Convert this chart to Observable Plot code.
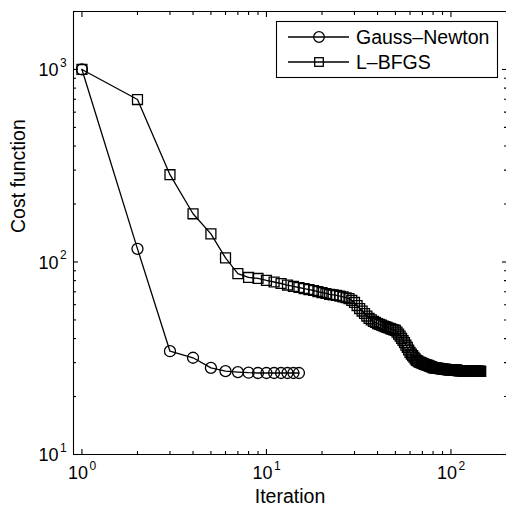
<!DOCTYPE html>
<html>
<head>
<meta charset="utf-8">
<script src="https://cdn.jsdelivr.net/npm/d3@7"></script>
<script src="https://cdn.jsdelivr.net/npm/@observablehq/plot@0.6"></script>
<style>
  html, body { margin: 0; padding: 0; background: #fff; }
  #chart { position: relative; width: 506px; height: 519px; }
</style>
</head>
<body>
<div id="chart"></div>
<script>
// ---- data ----
const seriesNames = ["Gauss–Newton", "L–BFGS"];
const gnIter = [1, 2, 3, 4, 5, 6, 7, 8, 9, 10, 11, 12, 13, 14, 15];
const gnCost = [1000, 117, 34.4, 31.8, 28.2, 27.1, 26.8, 26.6, 26.5, 26.5, 26.5, 26.5, 26.5, 26.5, 26.5];
const lbfgsCost = [
  1000, 698, 284, 178, 140, 105, 87, 83.1, 82.1, 80.2,
  78.7, 77.3, 75.9, 74.6, 73.7, 72.8, 71.9, 71.1, 70.2, 69.4,
  68.6, 67.8, 67.4, 67.0, 66.4, 65.8, 65.2, 64.6, 63.2, 61.6,
  59.4, 57.3, 55.6, 54.0, 52.4, 50.9, 50.0, 49.1, 48.5, 47.9,
  47.4, 47.0, 46.5, 46.1, 45.7, 45.4, 45.1, 44.7, 44.4, 44.1,
  43.2, 42.2, 41.2, 40.1, 39.1, 38.1, 37.0, 36.0, 34.9, 33.9,
  33.2, 32.6, 32.0, 31.4, 30.8, 30.6, 30.3, 30.1, 29.9, 29.7,
  29.6, 29.4, 29.3, 29.1, 29.0, 28.9, 28.7, 28.6, 28.4, 28.3,
  28.2, 28.2, 28.1, 28.1, 28.0, 28.0, 27.9, 27.9, 27.8, 27.8,
  27.8, 27.7, 27.7, 27.7, 27.6, 27.6, 27.6, 27.5, 27.5, 27.5,
  27.5, 27.5, 27.4, 27.4, 27.4, 27.4, 27.4, 27.4, 27.3, 27.3,
  27.3, 27.3, 27.3, 27.3, 27.3, 27.2, 27.2, 27.2, 27.2, 27.2,
  27.2, 27.2, 27.2, 27.2, 27.1, 27.1, 27.1, 27.1, 27.1, 27.1,
  27.1, 27.1, 27.1, 27.1, 27.0, 27.0, 27.0, 27.0, 27.0, 27.0,
  27.0, 27.0, 27.0, 27.0, 27.0
];
const lbfgsIter = lbfgsCost.map((_, i) => i + 1);
const xMajor = [1, 10, 100];
const xMinor = [2, 3, 4, 5, 6, 7, 8, 9, 20, 30, 40, 50, 60, 70, 80, 90, 200];
const yMajor = [10, 100, 1000];
const yMinor = [20, 30, 40, 50, 60, 70, 80, 90, 200, 300, 400, 500, 600, 700, 800, 900, 2000];
const xDomain = [0.9, 200];
const yDomain = [10, 2000];

const gn = gnIter.map((x, i) => ({x, y: gnCost[i]}));
const lb = lbfgsIter.map((x, i) => ({x, y: lbfgsCost[i]}));

const FONT = "'Liberation Sans', Arial, Helvetica, sans-serif";
const SW = 1.3;

function legendMark() {
  const g = d3.create("svg:g").attr("font-family", FONT).attr("text-anchor", "start");
  g.append("rect").attr("x", 276.5).attr("y", 21.5).attr("width", 221).attr("height", 56)
    .attr("fill", "white").attr("stroke", "black").attr("stroke-width", 1.1);
  const rows = [37, 62];
  rows.forEach((cy, i) => {
    g.append("line").attr("x1", 288).attr("x2", 349).attr("y1", cy).attr("y2", cy)
      .attr("stroke", "black").attr("stroke-width", SW);
    if (i === 0) {
      g.append("circle").attr("cx", 319).attr("cy", cy).attr("r", 5.3)
        .attr("fill", "none").attr("stroke", "black").attr("stroke-width", SW);
    } else {
      g.append("rect").attr("x", 319 - 4.3).attr("y", cy - 4.3).attr("width", 8.6).attr("height", 8.6)
        .attr("fill", "none").attr("stroke", "black").attr("stroke-width", SW);
    }
    g.append("text").attr("x", 356).attr("y", cy + 7).attr("font-size", 19.5)
      .attr("text-anchor", "start").attr("fill", "black").text(seriesNames[i]);
  });
  return g.node();
}

const noLabel = () => "";
const tickOpts = (anchor, size) => ({anchor, tickSize: size, tickFormat: noLabel, label: null, tickPadding: 0, strokeWidth: 1.1});

const plot = Plot.plot({
  width: 506,
  height: 519,
  marginLeft: 73,
  marginRight: 0,
  marginTop: 11,
  marginBottom: 65,
  style: {fontFamily: FONT, background: "white", color: "black"},
  x: {type: "log", domain: xDomain},
  y: {type: "log", domain: yDomain},
  marks: [
    // frame lines (left, top, bottom)
    Plot.ruleX([xDomain[0]], {stroke: "black", strokeWidth: 1.1}),
    Plot.ruleY([yDomain[0], yDomain[1]], {stroke: "black", strokeWidth: 1.1}),
    // inward ticks on all four sides
    Plot.axisX(xMajor, tickOpts("bottom", -5)),
    Plot.axisX(xMinor, tickOpts("bottom", -3)),
    Plot.axisX(xMajor, tickOpts("top", -5)),
    Plot.axisX(xMinor, tickOpts("top", -3)),
    Plot.axisY(yMajor, tickOpts("left", -5)),
    Plot.axisY(yMinor, tickOpts("left", -3)),
    Plot.axisY(yMajor, tickOpts("right", -5)),
    Plot.axisY(yMinor, tickOpts("right", -3)),
    // tick labels 10^n
    Plot.text(xMajor, {x: d => d, frameAnchor: "bottom", text: d => "10", textAnchor: "end", dx: 6, dy: 24, fontSize: 18, fill: "black"}),
    Plot.text(xMajor, {x: d => d, frameAnchor: "bottom", text: d => String(Math.round(Math.log10(d))), textAnchor: "start", dx: 7.5, dy: 15, fontSize: 12, fill: "black"}),
    Plot.text(yMajor, {y: d => d, frameAnchor: "left", text: d => "10", textAnchor: "end", dx: -15, dy: 1, fontSize: 18, fill: "black"}),
    Plot.text(yMajor, {y: d => d, frameAnchor: "left", text: d => String(Math.round(Math.log10(d))), textAnchor: "start", dx: -13.5, dy: -6.5, fontSize: 12, fill: "black"}),
    // axis labels
    Plot.text(["Iteration"], {frameAnchor: "bottom", text: d => d, dy: 48, fontSize: 19.5, fill: "black"}),
    Plot.text(["Cost function"], {frameAnchor: "left", text: d => d, rotate: -90, dx: -55, fontSize: 19.5, fill: "black"}),
    // data
    Plot.line(gn, {x: "x", y: "y", stroke: "black", strokeWidth: SW}),
    Plot.dot(gn, {x: "x", y: "y", symbol: "circle", r: 5.5, stroke: "black", fill: "none", strokeWidth: SW}),
    Plot.line(lb, {x: "x", y: "y", stroke: "black", strokeWidth: SW}),
    Plot.dot(lb, {x: "x", y: "y", symbol: "square", r: 5.6, stroke: "black", fill: "none", strokeWidth: SW}),
    legendMark
  ]
});
document.getElementById("chart").appendChild(plot);
</script>
</body>
</html>
